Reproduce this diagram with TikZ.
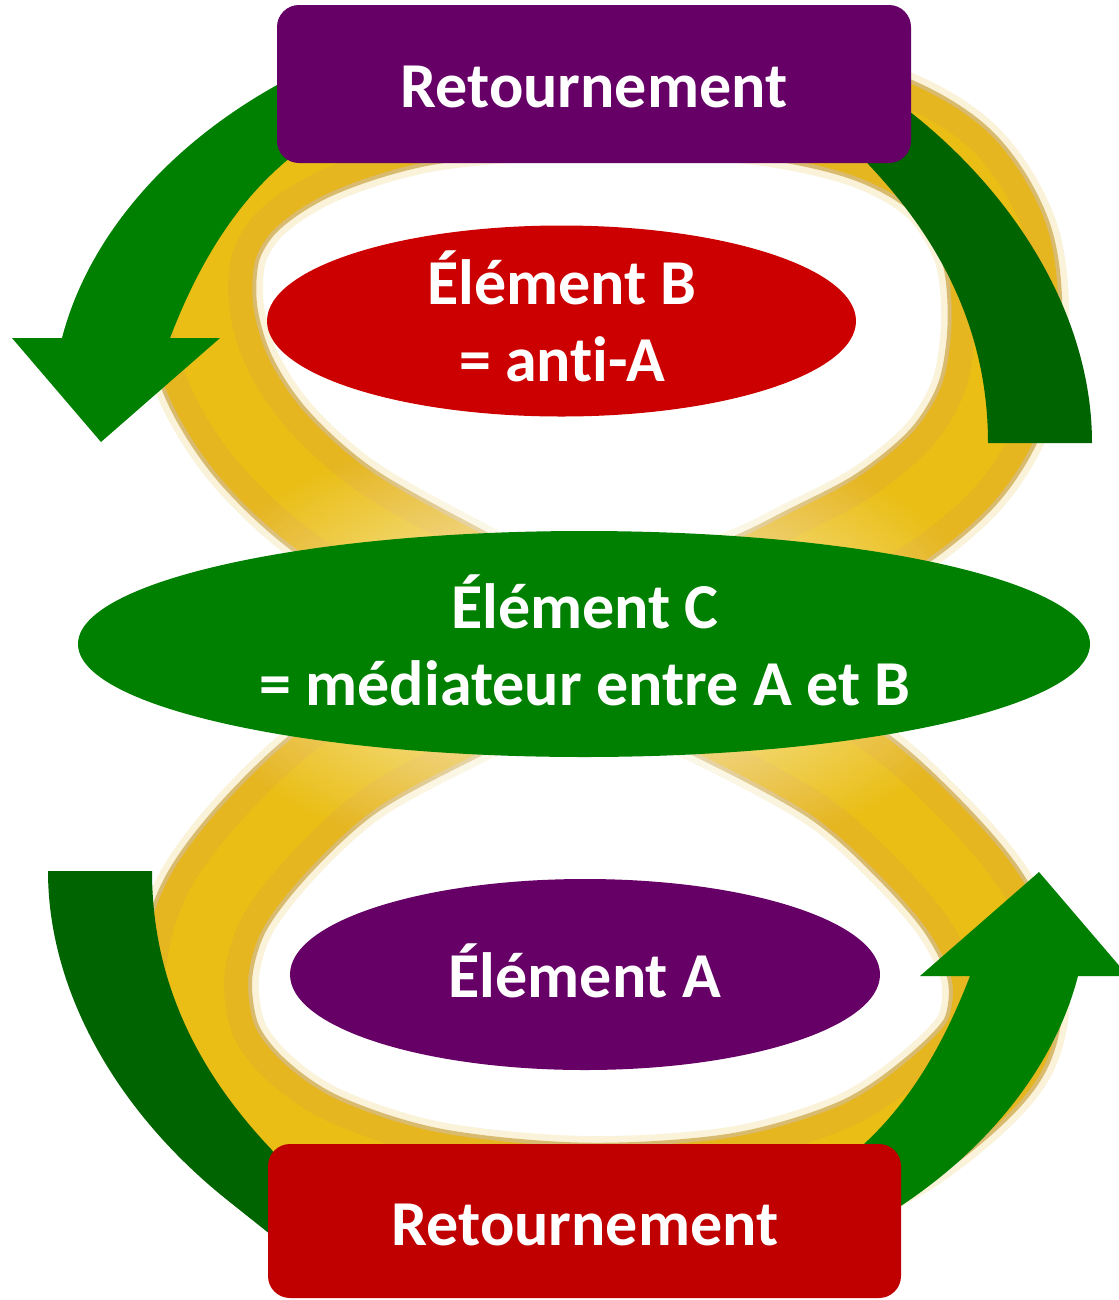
\documentclass[tikz,border=0pt]{standalone}
\usepackage{fontspec}
\setmainfont{Carlito}[Ligatures=NoCommon]
\usetikzlibrary{shapes.geometric,fadings}
\tikzfading[name=softcentre, inner color=transparent!0, outer color=transparent!100]
\definecolor{purp}{HTML}{660066}
\definecolor{redB}{HTML}{CC0000}
\definecolor{redbox}{HTML}{C00000}
\definecolor{grn}{HTML}{008000}
\definecolor{dgrn}{HTML}{006400}
\definecolor{gold1}{HTML}{E8B618}
\definecolor{gold2}{HTML}{F0C808}
\definecolor{goldedge}{HTML}{BE8E1A}
\definecolor{goldhalo}{HTML}{F3E2A0}
\begin{document}
\begin{tikzpicture}[x=0.75pt,y=-0.75pt,
  eight/.style={insert path={plot[smooth cycle, tension=0.55] coordinates {
   (585,645) (455,580) (340,515) (265,448) (220,380) (200,310) (205,242) (240,188)
   (312,142) (425,108) (585,95) (750,100) (870,125) (950,170) (995,240) (1005,320)
   (993,400) (955,465) (890,520) (815,560) (740,595) (585,645) (455,705) (345,765)
   (268,835) (215,905) (195,975) (205,1045) (245,1100) (315,1148) (430,1185)
   (585,1200) (740,1190) (860,1155) (938,1105) (995,1045) (1005,975) (975,905)
   (915,835) (840,770) (720,705)}}},
  ell/.style={ellipse, draw=none, inner sep=0pt},
  box/.style={rectangle, rounded corners=16.5pt, draw=none, inner sep=0pt},
  txt/.style={text=white, font=\fontsize{48}{58}\selectfont\bfseries, inner sep=0pt, anchor=base}
]
\useasboundingbox (0,0) rectangle (1119,1300);
\fill[white] (0,0) rectangle (1119,1300);

% golden figure-eight ribbon (soft)
\draw[line width=96pt, color=goldhalo, opacity=0.4, eight];
\draw[line width=86pt, color=goldedge, opacity=0.55, eight];
\draw[line width=80pt, color=gold1, opacity=0.9, eight];
\draw[line width=44pt, color=gold2, opacity=0.45, eight];
% fading near the crossing
\fill[white, path fading=softcentre, opacity=0.9] (585,645) ellipse [x radius=310pt, y radius=170pt];

% green curved arrows (top pair)
\fill[grn] (340,120) -- (300,150) .. controls (240,195) and (200,260) .. (170,338)
  -- (220,338) -- (101,442) -- (12,338) -- (62,338)
  .. controls (90,230) and (180,130) .. (310,68) -- cycle;
\fill[dgrn] (840,56) -- (914,115) .. controls (1020,200) and (1092,320) .. (1092,443)
  -- (988,443) .. controls (988,330) and (940,240) .. (869,165) -- (840,130) -- cycle;
% green curved arrows (bottom pair)
\fill[grn] (800,1194) -- (840,1164) .. controls (900,1119) and (940,1054) .. (970,976)
  -- (920,976) -- (1039,872) -- (1128,976) -- (1078,976)
  .. controls (1050,1084) and (960,1184) .. (830,1246) -- cycle;
\fill[dgrn] (300,1258) -- (226,1199) .. controls (120,1114) and (48,994) .. (48,871)
  -- (152,871) .. controls (152,984) and (200,1074) .. (271,1149) -- (300,1184) -- cycle;

% boxes
\node[box, fill=purp, minimum width=475.5pt, minimum height=118.5pt] (top) at (594,84) {};
\node[box, fill=redbox, minimum width=474.75pt, minimum height=115.5pt] (bot) at (584.5,1221) {};
% ellipses
\node[ell, fill=redB, minimum width=441.75pt, minimum height=143.25pt] (B) at (561.5,321) {};
\node[ell, fill=grn, minimum width=759pt, minimum height=169.5pt] (C) at (584,644) {};
\node[ell, fill=purp, minimum width=442.5pt, minimum height=143.25pt] (A) at (585,974.5) {};

% texts
\node[txt] (ttop) at (594,107) {Retournement};
\node[txt] (tbot) at (585,1245) {Retournement};
\node[txt] (tB1) at (562,304) {Élément B};
\node[txt] (tB2) at (562,381) {= anti-A};
\node[txt] (tC1) at (585,628) {Élément C};
\node[txt] (tC2) at (585,705) {= médiateur entre A et B};
\node[txt] (tA) at (585,997) {Élément A};
\end{tikzpicture}
\end{document}
